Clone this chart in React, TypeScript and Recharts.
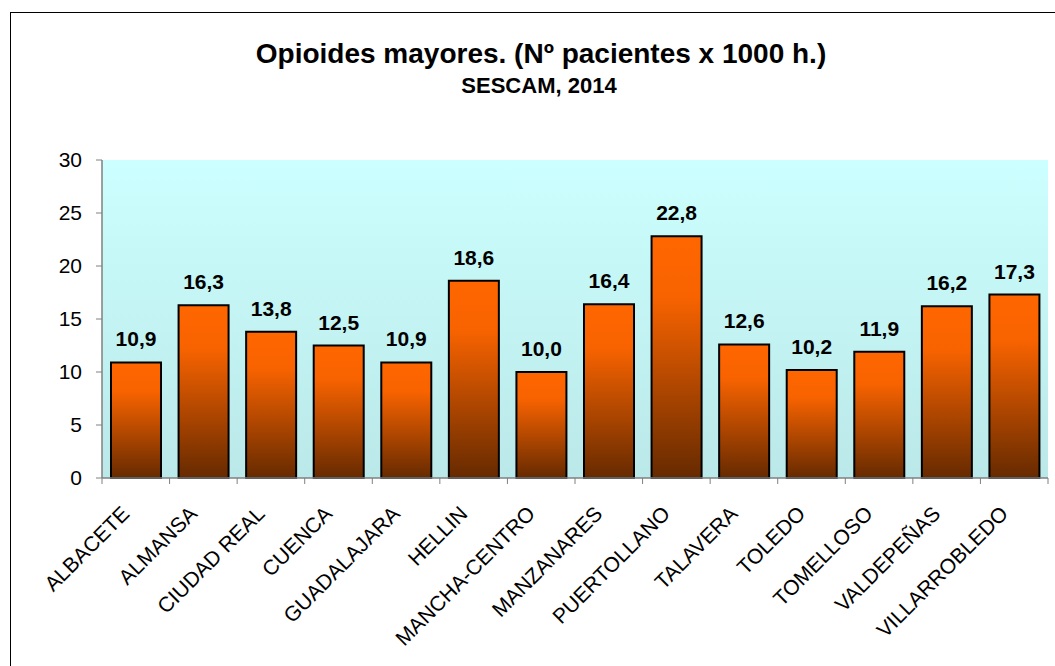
import { BarChart, Bar, XAxis, YAxis, CartesianGrid, LabelList } from 'recharts';

const categories = [
  'ALBACETE', 'ALMANSA', 'CIUDAD REAL', 'CUENCA', 'GUADALAJARA', 'HELLIN', 'MANCHA-CENTRO',
  'MANZANARES', 'PUERTOLLANO', 'TALAVERA', 'TOLEDO', 'TOMELLOSO', 'VALDEPEÑAS', 'VILLARROBLEDO',
];
const values = [10.9, 16.3, 13.8, 12.5, 10.9, 18.6, 10.0, 16.4, 22.8, 12.6, 10.2, 11.9, 16.2, 17.3];
const yTicks = [0, 5, 10, 15, 20, 25, 30];

const title = 'Opioides mayores. (Nº pacientes x 1000 h.)';
const subtitle = 'SESCAM, 2014';

const W = 1055;
const H = 666;
const PLOT_LEFT = 102;
const PLOT_RIGHT = 1048;
const PLOT_TOP = 160;
const PLOT_BOTTOM = 478;
const BAND = (PLOT_RIGHT - PLOT_LEFT) / categories.length;
const FONT = 'Arial, "Liberation Sans", sans-serif';
const AXIS = '#808080';

const data = categories.map((name, i) => ({ name, value: values[i] }));

function CategoryTick(props: any) {
  const { x, index, payload } = props;
  const left = x - BAND / 2;
  const ty = PLOT_BOTTOM + 37;
  const tx = x - 5;
  return (
    <g>
      <line x1={left} x2={left} y1={PLOT_BOTTOM} y2={PLOT_BOTTOM + 6} stroke={AXIS} />
      {index === categories.length - 1 && (
        <line x1={x + BAND / 2} x2={x + BAND / 2} y1={PLOT_BOTTOM} y2={PLOT_BOTTOM + 6} stroke={AXIS} />
      )}
      <text
        x={tx}
        y={ty}
        textAnchor="end"
        transform={`rotate(-45, ${tx}, ${ty})`}
        fontSize={21}
        fontFamily={FONT}
        fill="#000"
      >
        {payload.value}
      </text>
    </g>
  );
}

export default function App() {
  return (
    <div style={{ position: 'fixed', left: 0, top: 0, width: W, height: H, overflow: 'hidden', background: '#fff' }}>
      <div
        style={{
          position: 'absolute',
          left: 10,
          top: 12,
          width: 1200,
          height: 800,
          border: '1px solid #000',
        }}
      />
      <svg width={W} height={120} style={{ position: 'absolute', left: 0, top: 0 }}>
        <text x={541} y={63} textAnchor="middle" fontSize={28} fontWeight="bold" fontFamily={FONT}>
          {title}
        </text>
        <text x={539} y={93} textAnchor="middle" fontSize={22} fontWeight="bold" fontFamily={FONT}>
          {subtitle}
        </text>
      </svg>
      <div style={{ position: 'absolute', left: 0, top: 0 }}>
        <BarChart
          width={W}
          height={H}
          data={data}
          margin={{ top: PLOT_TOP, right: W - PLOT_RIGHT, left: 0, bottom: 0 }}
        >
          <defs>
            <linearGradient id="plotBg" x1="0" y1="0" x2="0" y2="1">
              <stop offset="0%" stopColor="#CCFFFF" />
              <stop offset="100%" stopColor="#BBE8E8" />
            </linearGradient>
            <linearGradient id="barFill" x1="0" y1="0" x2="0" y2="1">
              <stop offset="0%" stopColor="#FF6600" />
              <stop offset="25%" stopColor="#F86300" />
              <stop offset="100%" stopColor="#662A00" />
            </linearGradient>
          </defs>
          <CartesianGrid horizontal={false} vertical={false} fill="url(#plotBg)" />
          <XAxis
            dataKey="name"
            height={H - PLOT_BOTTOM}
            interval={0}
            tickLine={false}
            axisLine={{ stroke: AXIS, strokeWidth: 1.5 }}
            tick={<CategoryTick />}
          />
          <XAxis xAxisId="top" dataKey="name" orientation="top" height={0} tick={false} tickLine={false} axisLine={{ stroke: '#999' }} />
          <YAxis
            domain={[0, 30]}
            ticks={yTicks}
            interval={0}
            width={PLOT_LEFT}
            tickSize={6}
            tickMargin={14}
            tickLine={{ stroke: AXIS }}
            axisLine={{ stroke: AXIS, strokeWidth: 1.5 }}
            tick={{ fontSize: 21, fill: '#000', fontFamily: FONT }}
          />
          <YAxis yAxisId="right" orientation="right" width={0} tick={false} tickLine={false} axisLine={{ stroke: '#999' }} />
          <Bar
            dataKey="value"
            fill="url(#barFill)"
            stroke="#000"
            strokeWidth={2}
            barSize={50}
            isAnimationActive={false}
          >
            <LabelList
              dataKey="value"
              position="top"
              offset={16}
              formatter={(v: any) => Number(v).toFixed(1).replace('.', ',')}
              style={{ fontSize: 21, fontWeight: 'bold', fontFamily: FONT, fill: '#000' }}
            />
          </Bar>
        </BarChart>
      </div>
    </div>
  );
}
